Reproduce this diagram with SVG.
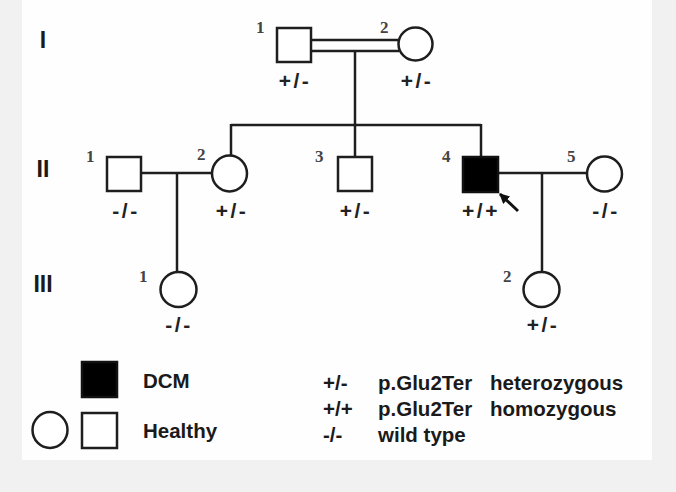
<svg xmlns="http://www.w3.org/2000/svg" width="676" height="492" viewBox="0 0 676 492">
<style>
.ln{stroke:#1e1e1e;stroke-width:2.5;fill:none}
.sh{stroke:#1e1e1e;stroke-width:2.5;fill:#fff}
.aff{stroke:#111;stroke-width:2.5;fill:#000}
.gt{font-family:"Liberation Sans",Arial,sans-serif;font-weight:bold;font-size:21px;fill:#222;text-anchor:middle;letter-spacing:2.5px}
.num{font-family:"Liberation Serif","Times New Roman",serif;font-weight:bold;font-size:17px;fill:#444}
.gen{font-family:"Liberation Sans",Arial,sans-serif;font-weight:bold;font-size:23px;fill:#1a1a1a;text-anchor:middle}
.lg{font-family:"Liberation Sans",Arial,sans-serif;font-weight:bold;font-size:20.5px;fill:#1a1a1a}
</style>
<defs>
<marker id="ah" viewBox="0 0 10 10" refX="9" refY="5" markerWidth="3.4" markerHeight="3.4" orient="auto">
<path d="M0,0 L10,5 L0,10 z" fill="#111"/>
</marker>
</defs>
<rect x="0" y="0" width="676" height="492" fill="#f1f1f1"/>
<rect x="22" y="0" width="630" height="460" fill="#fefefe"/>

<g id="gen-labels">
<text class="gen" x="43" y="48">I</text>
<text class="gen" x="43" y="177">II</text>
<text class="gen" x="43" y="292">III</text>
</g>

<g id="connectors">
<line class="ln" x1="311" y1="40" x2="399" y2="40"/>
<line class="ln" x1="311" y1="51" x2="399" y2="51"/>
<line class="ln" x1="355" y1="51" x2="355" y2="157"/>
<line class="ln" x1="231" y1="125" x2="481" y2="125"/>
<line class="ln" x1="231" y1="124" x2="231" y2="155"/>
<line class="ln" x1="481" y1="124" x2="481" y2="157"/>
<line class="ln" x1="141" y1="173" x2="212" y2="173"/>
<line class="ln" x1="177" y1="173" x2="177" y2="272"/>
<line class="ln" x1="498" y1="173" x2="587" y2="173"/>
<line class="ln" x1="542" y1="173" x2="542" y2="272"/>
<line x1="518" y1="211" x2="500" y2="194" stroke="#111" stroke-width="3" marker-end="url(#ah)"/>
</g>

<g id="I-1">
<rect class="sh" x="277" y="28" width="34" height="34"/>
<text class="num" x="256" y="33">1</text>
<text class="gt" x="295" y="88">+/-</text>
</g>
<g id="I-2">
<ellipse class="sh" cx="415.5" cy="44" rx="17" ry="16.5"/>
<text class="num" x="380" y="33">2</text>
<text class="gt" x="417" y="88">+/-</text>
</g>

<g id="II-1">
<rect class="sh" x="107" y="157" width="34" height="34"/>
<text class="num" x="86" y="162">1</text>
<text class="gt" x="126" y="218">-/-</text>
</g>
<g id="II-2">
<ellipse class="sh" cx="229.5" cy="173.5" rx="17.5" ry="18"/>
<text class="num" x="197" y="160">2</text>
<text class="gt" x="232" y="218">+/-</text>
</g>
<g id="II-3">
<rect class="sh" x="338" y="157" width="34" height="34"/>
<text class="num" x="315" y="162">3</text>
<text class="gt" x="356" y="218">+/-</text>
</g>
<g id="II-4">
<rect class="aff" x="463" y="157" width="35" height="35"/>
<text class="num" x="442" y="162">4</text>
<text class="gt" x="481" y="218">+/+</text>
</g>
<g id="II-5">
<ellipse class="sh" cx="604.5" cy="174" rx="17.5" ry="17.5"/>
<text class="num" x="567" y="162">5</text>
<text class="gt" x="606" y="218">-/-</text>
</g>

<g id="III-1">
<ellipse class="sh" cx="178.5" cy="289.5" rx="18" ry="17.5"/>
<text class="num" x="139" y="282">1</text>
<text class="gt" x="179" y="332">-/-</text>
</g>
<g id="III-2">
<ellipse class="sh" cx="541.5" cy="289.5" rx="18" ry="17.5"/>
<text class="num" x="503" y="282">2</text>
<text class="gt" x="543" y="332">+/-</text>
</g>

<g id="legend">
<rect class="aff" x="82" y="362" width="35" height="35"/>
<text class="lg" x="143" y="388">DCM</text>
<ellipse class="sh" cx="50" cy="430" rx="17.5" ry="18"/>
<rect class="sh" x="82" y="413" width="35" height="35"/>
<text class="lg" x="143" y="438">Healthy</text>
<text class="lg" x="323" y="390">+/-</text>
<text class="lg" x="378" y="390">p.Glu2Ter</text>
<text class="lg" x="490" y="390">heterozygous</text>
<text class="lg" x="323" y="416">+/+</text>
<text class="lg" x="378" y="416">p.Glu2Ter</text>
<text class="lg" x="490" y="416">homozygous</text>
<text class="lg" x="323" y="442">-/-</text>
<text class="lg" x="378" y="442">wild type</text>
</g>
</svg>
